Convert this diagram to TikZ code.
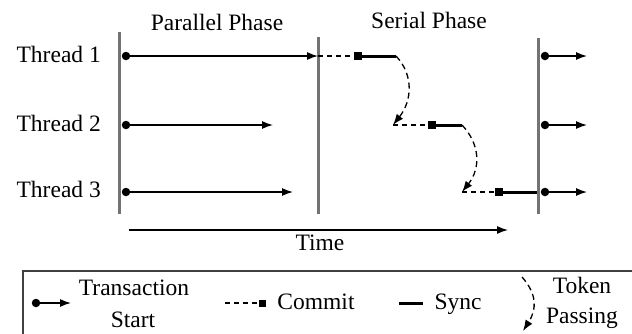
\documentclass[tikz,border=0pt]{standalone}
\usepackage{fontspec}
\setmainfont{Liberation Serif}
\usetikzlibrary{arrows.meta,positioning}

\begin{document}
\begin{tikzpicture}[
  x=1pt, y=-1pt,
  font=\fontsize{23.5}{26}\selectfont,
  dot/.style={circle, fill, inner sep=0pt, minimum size=8.5pt},
  sq/.style={rectangle, fill, inner sep=0pt, minimum size=8pt},
  phase/.style={line width=3pt, draw=black!55},
  arr/.style={-{Latex[length=11pt,width=8pt]}, line width=1.3pt},
  wait/.style={line width=1.3pt, dash pattern=on 5pt off 4pt},
  sync/.style={line width=3pt},
  token/.style={-{Latex[length=11pt,width=8pt]}, line width=1.3pt, dash pattern=on 6pt off 4pt},
  lbl/.style={anchor=base, inner sep=0pt}
]
\useasboundingbox (0,0) rectangle (632,333);
\clip (0,0) rectangle (632,333);

% phase titles and thread names
\node[lbl] (par) at (217,30) {Parallel Phase};
\node[lbl] (ser) at (429,28) {Serial Phase};
\node[lbl, anchor=base east] (th1) at (101,62) {Thread 1};
\node[lbl, anchor=base east] (th2) at (101,131) {Thread 2};
\node[lbl, anchor=base east] (th3) at (101,197) {Thread 3};

% phase borders
\coordinate (p1t) at (119,32);  \coordinate (p1b) at (119,214);
\coordinate (p2t) at (318,37);  \coordinate (p2b) at (318,214);
\coordinate (p3t) at (538,38);  \coordinate (p3b) at (538,214);
\draw[phase] (p1t) -- (p1b);
\draw[phase] (p2t) -- (p2b);
\draw[phase] (p3t) -- (p3b);

% parallel phase
\node[dot] (d1) at (126,56) {};
\node[dot] (d2) at (126,125) {};
\node[dot] (d3) at (126,192) {};
\coordinate (e1) at (318,56);
\coordinate (e2) at (273,125);
\coordinate (e3) at (293,192);
\draw[arr] (d1) -- (e1);
\draw[arr] (d2) -- (e2);
\draw[arr] (d3) -- (e3);

% serial phase
\node[sq] (c1) at (358,56) {};
\node[sq] (c2) at (432,125) {};
\node[sq] (c3) at (499,192) {};
\coordinate (s1) at (396,56);
\coordinate (r2) at (393,125);
\coordinate (s2) at (462,125);
\coordinate (r3) at (462,192);
\coordinate (s3) at (537,192);
\draw[wait] (e1) -- (c1);
\draw[sync] (c1) -- (s1);
\draw[token] (s1) .. controls +(18,19) and +(19,-24) .. (r2);
\draw[wait] (r2) -- (c2);
\draw[sync] (c2) -- (s2);
\draw[token] (s2) .. controls +(18,19) and +(19,-24) .. (r3);
\draw[wait] (r3) -- (c3);
\draw[sync] (c3) -- (s3);

% next parallel phase
\foreach \y/\n in {56/1,125/2,192/3} {
  \node[dot] (n\n) at (545,\y) {};
  \coordinate (m\n) at (587,\y);
  \draw[arr] (n\n) -- (m\n);
}

% time axis
\coordinate (t0) at (129,230);
\coordinate (t1) at (508,230);
\draw[arr] (t0) -- (t1);
\node[lbl] (time) at (320,250) {Time};

% legend
\draw[line width=1.3pt, draw=black!75] (23,271) rectangle (650,350);
\node[dot] (ld) at (36,303) {};
\coordinate (la) at (71,303);
\draw[arr] (ld) -- (la);
\node[lbl] (lt1) at (134,295) {Transaction};
\node[lbl] (lt2) at (133,327) {Start};
\coordinate (lc0) at (225,303);
\node[sq, minimum size=7pt] (lc) at (262,303) {};
\draw[wait] (lc0) -- (lc);
\node[lbl] (lcom) at (316,309) {Commit};
\coordinate (ls0) at (399,303);
\coordinate (ls1) at (423,303);
\draw[sync] (ls0) -- (ls1);
\node[lbl] (lsyn) at (458,309) {Sync};
\coordinate (lk0) at (522,277);
\coordinate (lk1) at (523,331);
\draw[token] (lk0) .. controls +(15,17) and +(14,-22) .. (lk1);
\node[lbl] (lk2) at (582,293) {Token};
\node[lbl] (lk3) at (582,323) {Passing};
\end{tikzpicture}
\end{document}
